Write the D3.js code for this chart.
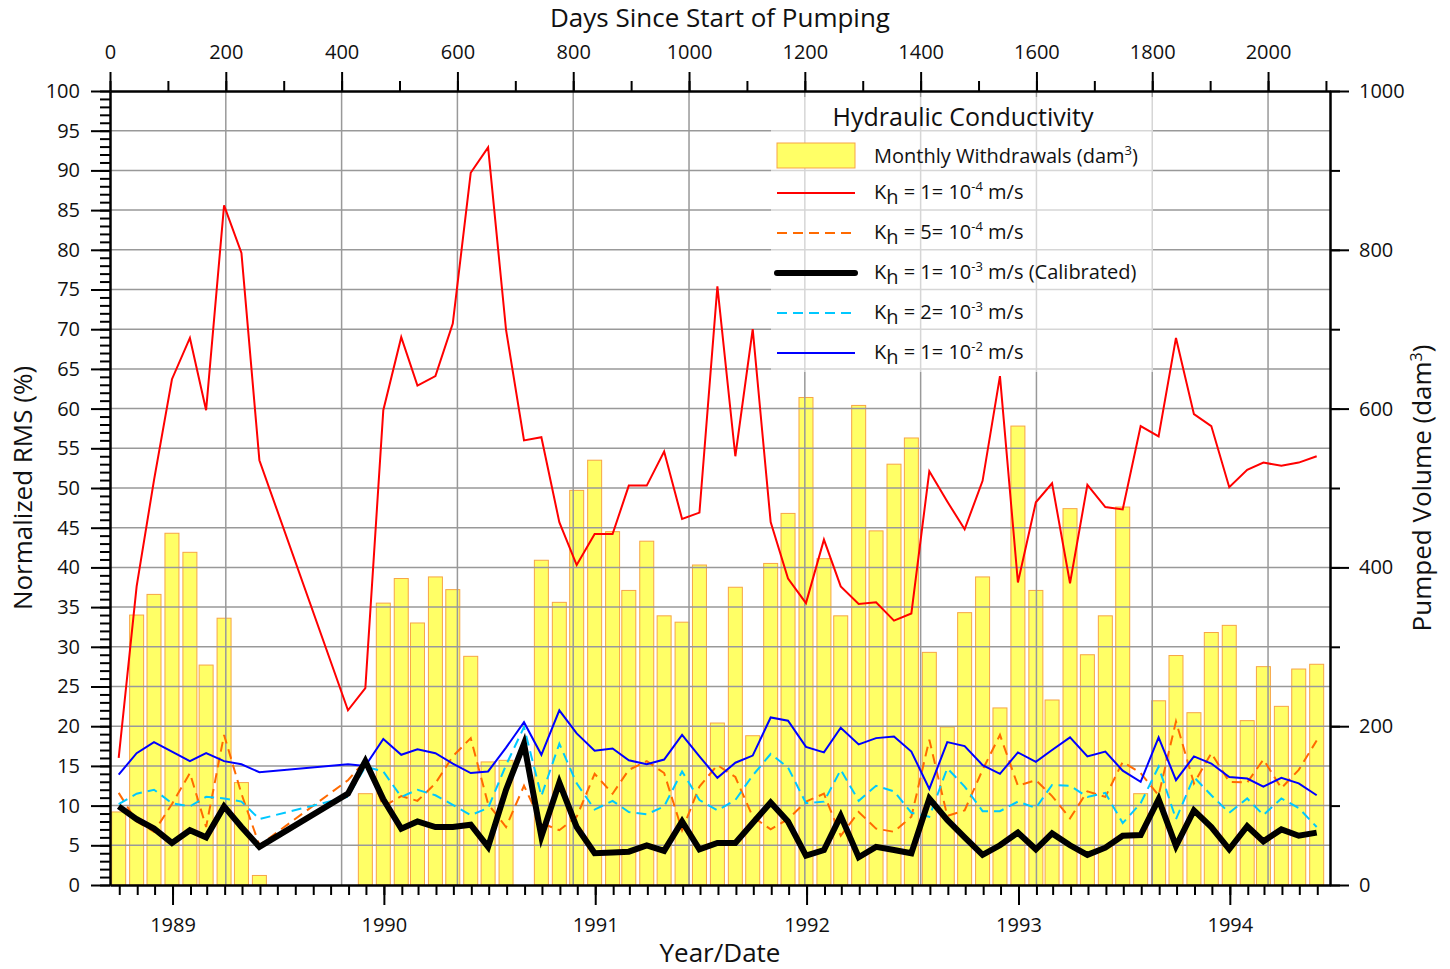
<!DOCTYPE html>
<html>
<head>
<meta charset="utf-8">
<script src="https://cdn.jsdelivr.net/npm/d3@7"></script>
<style>
  body { margin: 0; background: #fff; }
  text { font-family: "Open Sans", "Noto Sans", sans-serif; fill: #111; }
</style>
</head>
<body>
<svg id="chart" width="1450" height="969"></svg>
<script>
// monthly data, Oct 1988 .. Jun 1994 (69 months); null = no value that month
var withdrawals = [92, 340, 366,
  443, 419, 277, 336, 129, 12, null, null, null, null, null, 115,
  355, 386, 330, 388, 372, 288, 155, 157, null, 409, 356, 497,
  535, 445, 371, 433, 339, 331, 403, 204, 375, 188, 405, 468,
  614, 411, 339, 604, 446, 530, 563, 293, 199, 343, 388, 223,
  578, 371, 233, 474, 290, 339, 476, 115, 232, 289, 217, 318,
  327, 207, 275, 225, 272, 278];

var kh1e4 = [16.0, 37.6, 51.0,
  63.7, 68.9, 59.8, 85.6, 79.6, 53.5, null, null, null, null, 22.0, 24.8,
  59.8, 69.0, 62.9, 64.1, 70.7, 89.7, 92.9, 69.9, 56.0, 56.4, 45.7, 40.3,
  44.2, 44.2, 50.3, 50.3, 54.6, 46.1, 46.9, 75.4, 54.0, 70.0, 45.7, 38.6,
  35.5, 43.5, 37.6, 35.4, 35.6, 33.3, 34.2, 52.1, 48.3, 44.8, 50.9, 64.1,
  38.1, 48.2, 50.6, 38.0, 50.4, 47.6, 47.3, 57.8, 56.5, 68.9, 59.3, 57.8,
  50.1, 52.3, 53.2, 52.8, 53.2, 54.0];

var kh5e4 = [11.6, 8.0, 6.7,
  10.2, 14.1, 7.3, 18.9, 11.5, 5.0, null, null, null, null, 13.2, 15.7,
  9.9, 11.2, 10.6, 12.8, 16.2, 18.5, 10.2, 7.3, 12.5, 7.8, 6.9, 8.6,
  14.0, 11.5, 14.5, 15.6, 14.1, 6.9, 12.4, 15.1, 13.6, 8.6, 7.0, 8.3,
  10.5, 11.5, 6.2, 9.2, 7.1, 6.7, 8.6, 18.3, 8.7, 9.4, 14.5, 18.9,
  12.5, 13.2, 11.2, 8.4, 11.8, 11.1, 15.5, 14.1, 11.3, 20.6, 12.8, 16.6,
  13.0, 12.9, 15.8, 12.2, 14.5, 18.2];

var kh1e3 = [9.9, 8.3, 7.1,
  5.3, 6.9, 6.0, 9.9, 7.3, 4.8, null, null, null, null, 11.5, 15.6,
  10.8, 7.1, 8.0, 7.3, 7.3, 7.6, 4.8, 12.0, 17.8, 6.1, 12.9, 7.3,
  4.0, 4.1, 4.2, 5.0, 4.3, 8.0, 4.5, 5.3, 5.3, 7.8, 10.4, 8.0,
  3.7, 4.4, 8.7, 3.5, 4.8, 4.4, 4.0, 10.9, 8.2, 6.0, 3.8, 5.0,
  6.6, 4.5, 6.5, 5.0, 3.8, 4.7, 6.2, 6.3, 10.8, 4.9, 9.4, 7.3,
  4.5, 7.4, 5.5, 7.0, 6.2, 6.6];

var kh2e3 = [10.2, 11.5, 12.0,
  10.3, 9.9, 11.1, 10.9, 10.5, 8.3, null, null, null, null, 11.1, 14.9,
  14.3, 11.1, 12.0, 11.3, 10.1, 8.8, 9.7, 15.1, 19.9, 11.2, 17.8, 12.8,
  9.5, 10.6, 9.2, 8.9, 9.9, 14.3, 10.7, 9.4, 10.7, 13.8, 16.5, 14.8,
  10.3, 10.5, 14.5, 10.6, 12.5, 11.8, 9.1, 8.6, 14.7, 12.4, 9.3, 9.3,
  10.5, 9.7, 12.6, 12.5, 11.1, 11.6, 7.8, 10.3, 14.9, 8.3, 13.6, 11.3,
  9.1, 10.9, 8.8, 10.9, 9.7, 7.3];

var kh1e2 = [13.9, 16.6, 18.0,
  16.8, 15.6, 16.6, 15.6, 15.2, 14.2, null, null, null, null, 15.2, 15.0,
  18.4, 16.4, 17.1, 16.6, 15.3, 14.1, 14.3, 17.3, 20.5, 16.4, 22.0, 19.1,
  16.9, 17.2, 15.7, 15.2, 15.8, 18.9, 16.2, 13.5, 15.4, 16.3, 21.1, 20.7,
  17.4, 16.7, 19.8, 17.7, 18.5, 18.7, 16.8, 12.1, 18.0, 17.5, 15.1, 14.0,
  16.7, 15.5, 17.0, 18.6, 16.2, 16.8, 14.4, 13.0, 18.6, 13.2, 16.2, 15.3,
  13.6, 13.4, 12.4, 13.5, 12.8, 11.3];

var legendCoefs = ["1", "5", "1", "2", "1"];
var legendExps = ["-4", "-4", "-3", "-3", "-2"];
var legendExtras = ["", "", " (Calibrated)", "", ""];

var svgWidth = 1450;
var svgHeight = 969;
var margin = { top: 91, right: 120, bottom: 84, left: 110 };
var width = svgWidth - margin.left - margin.right;
var height = svgHeight - margin.top - margin.bottom;

var svg = d3.select("#chart");
var g = svg.append("g").attr("transform", `translate(${margin.left}, ${margin.top})`);

// pumping started 15 Sep 1988; axis runs 2107 days
var start = new Date(Date.UTC(1988, 8, 15));
var totalDays = 2107;
var xTime = d3.scaleUtc().domain([start, d3.utcDay.offset(start, totalDays)]).range([0, width]);
var xDays = d3.scaleLinear().domain([0, totalDays]).range([0, width]);
var yLeft = d3.scaleLinear().domain([0, 100]).range([height, 0]);
var yRight = d3.scaleLinear().domain([0, 1000]).range([height, 0]);

// each monthly value sits at the end of its month
var months = d3.utcMonth.range(new Date(Date.UTC(1988, 9, 1)), new Date(Date.UTC(1994, 6, 1)))
  .map(d => d3.utcDay.offset(d, -1));

// bars
var barW = 14;
g.selectAll(".bar")
  .data(withdrawals.map((v, i) => ({ date: months[i], v: v })).filter(d => d.v != null))
  .enter()
  .append("rect")
  .attr("class", "bar")
  .attr("x", d => xTime(d.date) - barW / 2)
  .attr("y", d => yRight(d.v))
  .attr("width", barW)
  .attr("height", d => height - yRight(d.v))
  .attr("fill", "#ffff66")
  .attr("stroke", "#f7a545")
  .attr("stroke-width", 1);

// grid
g.selectAll(".hgrid")
  .data(d3.range(5, 100, 5))
  .enter()
  .append("line")
  .attr("x1", 0).attr("x2", width)
  .attr("y1", d => yLeft(d)).attr("y2", d => yLeft(d))
  .attr("stroke", "#999").attr("stroke-width", 1.5);

g.selectAll(".vgrid")
  .data(d3.range(200, 2001, 200))
  .enter()
  .append("line")
  .attr("x1", d => xDays(d)).attr("x2", d => xDays(d))
  .attr("y1", 0).attr("y2", height)
  .attr("stroke", "#999").attr("stroke-width", 1.5);

// lines
var series = [
  { values: kh1e4, color: "#ff0000", width: 2, dash: null },
  { values: kh5e4, color: "#ff6a00", width: 2, dash: "10,6" },
  { values: kh1e3, color: "#000000", width: 6, dash: null },
  { values: kh2e3, color: "#00c8ff", width: 2, dash: "10,6" },
  { values: kh1e2, color: "#0000ff", width: 2, dash: null }
];

var line = d3.line().x(d => xTime(d.date)).y(d => yLeft(d.v));

var drawOrder = [1, 3, 4, 0, 2];
drawOrder.forEach(function(k) {
  var s = series[k];
  var pts = s.values.map((v, i) => ({ date: months[i], v: v })).filter(d => d.v != null);
  g.append("path")
    .datum(pts)
    .attr("d", line)
    .attr("fill", "none")
    .attr("stroke", s.color)
    .attr("stroke-width", s.width)
    .attr("stroke-linejoin", "miter")
    .attr("stroke-dasharray", s.dash);
});

// legend
var lg = svg.append("g");
lg.append("rect")
  .attr("x", 771).attr("y", 97).attr("width", 382).attr("height", 275)
  .attr("fill", "#fff").attr("opacity", 0.6);
lg.append("text")
  .attr("x", 963).attr("y", 126)
  .style("text-anchor", "middle").style("font-size", "25px")
  .text("Hydraulic Conductivity");
lg.append("rect")
  .attr("x", 777).attr("y", 143).attr("width", 78).attr("height", 25)
  .attr("fill", "#ffff66").attr("stroke", "#f7a545");
var mt = lg.append("text").attr("x", 874).attr("y", 163).style("font-size", "20px");
mt.append("tspan").text("Monthly Withdrawals (dam");
mt.append("tspan").attr("dy", -8).style("font-size", "13px").text("3");
mt.append("tspan").attr("dy", 8).text(")");

series.forEach(function(s, i) {
  var ly = 193 + i * 40;
  lg.append("line")
    .attr("x1", 777).attr("x2", 855)
    .attr("y1", ly).attr("y2", ly)
    .attr("stroke", s.color)
    .attr("stroke-width", s.width)
    .attr("stroke-linecap", s.width > 3 ? "round" : "butt")
    .attr("stroke-dasharray", s.dash);
  var t = lg.append("text").attr("x", 874).attr("y", ly + 6).style("font-size", "20px");
  t.append("tspan").text("K");
  t.append("tspan").attr("dy", 5).text("h");
  t.append("tspan").attr("dy", -5).text(" = " + legendCoefs[i] + "= 10");
  t.append("tspan").attr("dy", -8).style("font-size", "13px").text(legendExps[i]);
  t.append("tspan").attr("dy", 8).text(" m/s" + legendExtras[i]);
});

// axes
function styleAxis(sel) {
  sel.select(".domain").attr("stroke", "#000").attr("stroke-width", 2);
  sel.selectAll(".tick line").attr("stroke", "#000").attr("stroke-width", 2);
  sel.selectAll(".tick text").style("font-size", "20px").attr("fill", "#111");
}

var plain = d3.format("d");

g.append("g")
  .call(d3.axisLeft(yLeft).tickValues(d3.range(0, 101, 1)).tickSize(10).tickSizeOuter(0).tickFormat(""))
  .call(styleAxis);
g.append("g")
  .call(d3.axisLeft(yLeft).tickValues(d3.range(0, 101, 5)).tickSize(19).tickSizeOuter(0).tickPadding(11).tickFormat(plain))
  .call(styleAxis);

g.append("g")
  .attr("transform", `translate(${width}, 0)`)
  .call(d3.axisRight(yRight).tickValues(d3.range(0, 1001, 100)).tickSize(10).tickSizeOuter(0).tickFormat(""))
  .call(styleAxis);
g.append("g")
  .attr("transform", `translate(${width}, 0)`)
  .call(d3.axisRight(yRight).tickValues(d3.range(0, 1001, 200)).tickSize(19).tickSizeOuter(0).tickPadding(10).tickFormat(plain))
  .call(styleAxis);

g.append("g")
  .call(d3.axisTop(xDays).tickValues(d3.range(0, 2101, 100)).tickSize(10).tickSizeOuter(0).tickFormat(""))
  .call(styleAxis);
g.append("g")
  .call(d3.axisTop(xDays).tickValues(d3.range(0, 2001, 200)).tickSize(19).tickSizeOuter(0).tickPadding(13).tickFormat(plain))
  .call(styleAxis);

g.append("g")
  .attr("transform", `translate(0, ${height})`)
  .call(d3.axisBottom(xTime).ticks(d3.utcMonth.every(1)).tickSize(10).tickSizeOuter(0).tickFormat(""))
  .call(styleAxis);
g.append("g")
  .attr("transform", `translate(0, ${height})`)
  .call(d3.axisBottom(xTime).ticks(d3.utcYear.every(1)).tickSize(20).tickSizeOuter(0).tickPadding(13)
    .tickFormat(d3.utcFormat("%Y")))
  .call(styleAxis);

// axis titles
svg.append("text")
  .attr("x", 720).attr("y", 27)
  .style("text-anchor", "middle").style("font-size", "26px")
  .text("Days Since Start of Pumping");

svg.append("text")
  .attr("x", 720).attr("y", 962)
  .style("text-anchor", "middle").style("font-size", "26px")
  .text("Year/Date");

svg.append("text")
  .attr("transform", "rotate(-90)")
  .attr("x", -488).attr("y", 32)
  .style("text-anchor", "middle").style("font-size", "26px")
  .text("Normalized RMS (%)");

var rt = svg.append("text")
  .attr("transform", "rotate(-90)")
  .attr("x", -488).attr("y", 1431)
  .style("text-anchor", "middle").style("font-size", "26px");
rt.append("tspan").text("Pumped Volume (dam");
rt.append("tspan").attr("dy", -9).style("font-size", "16px").text("3");
rt.append("tspan").attr("dy", 9).text(")");
</script>
</body>
</html>
